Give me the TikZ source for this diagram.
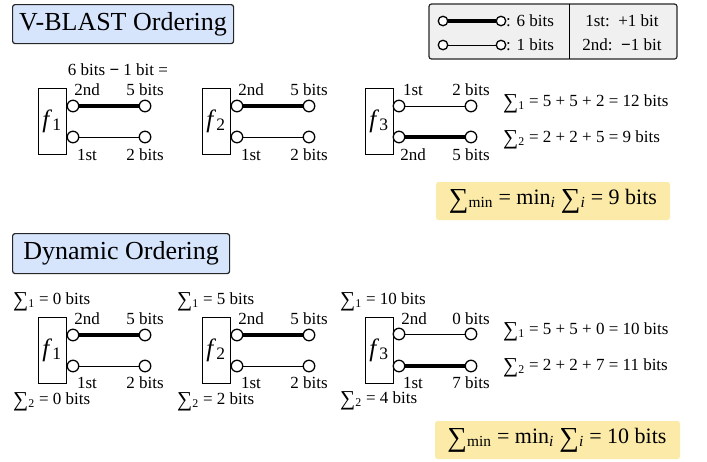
\documentclass[tikz,border=0pt]{standalone}
\usepackage{fontspec}
\usepackage{graphicx}
\setmainfont{Liberation Serif}
\newcommand{\Sg}[1]{\raisebox{-0.12em}{\scalebox{1.25}{∑}}\textsubscript{#1}}
\newcommand{\bminus}{\textbf{−}}
\definecolor{tblue}{HTML}{D6E4FC}
\definecolor{tyellow}{HTML}{FCEBA8}
\definecolor{tgray}{HTML}{F0F0F0}
\begin{document}
\begin{tikzpicture}[x=1pt,y=-1pt,
  titlebox/.style={draw=black!85, fill=tblue, rounded corners=2.5pt, line width=1.2pt, inner sep=0pt, font=\fontsize{26}{28}\selectfont, anchor=north west},
  legbox/.style={draw=black!85, fill=tgray, rounded corners=2.5pt, line width=1.2pt},
  resbox/.style={fill=tyellow, rounded corners=2.5pt, draw=none},
  blk/.style={draw, line width=1pt, minimum width=28pt, minimum height=66pt, inner sep=0pt, font=\fontsize{25}{27}\selectfont},
  port/.style={circle, draw, line width=1.3pt, fill=white, minimum size=11.5pt, inner sep=0pt},
  lport/.style={circle, draw, line width=1.3pt, fill=white, minimum size=9.5pt, inner sep=0pt},
  lbl/.style={font=\fontsize{17}{19}\selectfont, inner sep=0pt},
  big/.style={font=\fontsize{22}{24}\selectfont, inner sep=0pt},
  wthick/.style={line width=4pt},
  wthin/.style={line width=1pt}]
\useasboundingbox (0,0) rectangle (707,461);

% ---------------- V-BLAST ----------------
\node[titlebox, minimum width=221pt, minimum height=39pt] (t1) at (12,4) {V-BLAST Ordering};

% legend
\draw[legbox] (429,4) rectangle (677,59);
\coordinate (dv1) at (569,4);
\coordinate (dv2) at (569,59);
\draw[line width=1pt] (dv1) -- (dv2);
\node[lport] (la1) at (443,21) {};
\node[lport] (lb1) at (501,21) {};
\node[lport] (la2) at (443,45) {};
\node[lport] (lb2) at (501,45) {};
\draw[wthick] (la1) -- (lb1);
\draw[wthin] (la2) -- (lb2);
\node[lbl, anchor=west] (lt1) at (506,21) {: 6 bits};
\node[lbl, anchor=west] (lt2) at (506,45) {: 1 bits};
\node[lbl] (lr1) at (622,21) {1st:\, +1 bit};
\node[lbl] (lr2) at (622,45) {2nd:\, \bminus1 bit};

% f1
\node[lbl] (ann) at (118,70) {6 bits \bminus\ 1 bit =};
\node[blk] (f1) at (52,121) {\textit{f}\textsubscript{1}};
\node[port] (a1) at (73,106) {};
\node[port] (b1) at (145,106) {};
\node[port] (c1) at (73,137) {};
\node[port] (d1) at (145,137) {};
\draw[wthick] (a1) -- (b1);
\draw[wthin] (c1) -- (d1);
\node[lbl] (l1a) at (87,90) {2nd};
\node[lbl] (l1b) at (145,90) {5 bits};
\node[lbl] (l1c) at (87,155) {1st};
\node[lbl] (l1d) at (145,155) {2 bits};

% f2
\node[blk] (f2) at (216,121) {\textit{f}\textsubscript{2}};
\node[port] (a2) at (237,106) {};
\node[port] (b2) at (309,106) {};
\node[port] (c2) at (237,137) {};
\node[port] (d2) at (309,137) {};
\draw[wthick] (a2) -- (b2);
\draw[wthin] (c2) -- (d2);
\node[lbl] (l2a) at (251,90) {2nd};
\node[lbl] (l2b) at (309,90) {5 bits};
\node[lbl] (l2c) at (251,155) {1st};
\node[lbl] (l2d) at (309,155) {2 bits};

% f3
\node[blk] (f3) at (379,121) {\textit{f}\textsubscript{3}};
\node[port] (a3) at (399,106) {};
\node[port] (b3) at (471,106) {};
\node[port] (c3) at (399,137) {};
\node[port] (d3) at (471,137) {};
\draw[wthin] (a3) -- (b3);
\draw[wthick] (c3) -- (d3);
\node[lbl] (l3a) at (413,90) {1st};
\node[lbl] (l3b) at (471,90) {2 bits};
\node[lbl] (l3c) at (413,155) {2nd};
\node[lbl] (l3d) at (471,155) {5 bits};

\node[lbl, anchor=west] (s1) at (503,104) {\Sg{1} = 5 + 5 + 2 = 12 bits};
\node[lbl, anchor=west] (s2) at (503,140) {\Sg{2} = 2 + 2 + 5 = 9 bits};

\draw[resbox] (436,182) rectangle (670,220);
\node[big] (r1) at (553,201) {\Sg{min} = min\textsubscript{\textit{i}} \Sg{\textit{i}} = 9 bits};

% ---------------- Dynamic ----------------
\node[titlebox, minimum width=217pt, minimum height=40pt] (t2) at (12,233) {Dynamic Ordering};

% g1
\node[lbl, anchor=west] (u1a) at (13,302) {\Sg{1} = 0 bits};
\node[lbl, anchor=west] (u1b) at (13,402) {\Sg{2} = 0 bits};
\node[blk] (g1) at (52,350) {\textit{f}\textsubscript{1}};
\node[port] (e1) at (73,335) {};
\node[port] (h1) at (145,335) {};
\node[port] (j1) at (73,366) {};
\node[port] (k1) at (145,366) {};
\draw[wthick] (e1) -- (h1);
\draw[wthin] (j1) -- (k1);
\node[lbl] (m1a) at (87,319) {2nd};
\node[lbl] (m1b) at (145,319) {5 bits};
\node[lbl] (m1c) at (87,383) {1st};
\node[lbl] (m1d) at (145,383) {2 bits};

% g2
\node[lbl, anchor=west] (u2a) at (177,302) {\Sg{1} = 5 bits};
\node[lbl, anchor=west] (u2b) at (177,402) {\Sg{2} = 2 bits};
\node[blk] (g2) at (216,350) {\textit{f}\textsubscript{2}};
\node[port] (e2) at (237,335) {};
\node[port] (h2) at (309,335) {};
\node[port] (j2) at (237,366) {};
\node[port] (k2) at (309,366) {};
\draw[wthick] (e2) -- (h2);
\draw[wthin] (j2) -- (k2);
\node[lbl] (m2a) at (251,319) {2nd};
\node[lbl] (m2b) at (309,319) {5 bits};
\node[lbl] (m2c) at (251,383) {1st};
\node[lbl] (m2d) at (309,383) {2 bits};

% g3
\node[lbl, anchor=west] (u3a) at (340,302) {\Sg{1} = 10 bits};
\node[lbl, anchor=west] (u3b) at (340,401) {\Sg{2} = 4 bits};
\node[blk] (g3) at (379,350) {\textit{f}\textsubscript{3}};
\node[port] (e3) at (399,334) {};
\node[port] (h3) at (471,334) {};
\node[port] (j3) at (399,366) {};
\node[port] (k3) at (471,366) {};
\draw[wthin] (e3) -- (h3);
\draw[wthick] (j3) -- (k3);
\node[lbl] (m3a) at (414,319) {2nd};
\node[lbl] (m3b) at (471,319) {0 bits};
\node[lbl] (m3c) at (413,383) {1st};
\node[lbl] (m3d) at (471,383) {7 bits};

\node[lbl, anchor=west] (v1) at (503,332) {\Sg{1} = 5 + 5 + 0 = 10 bits};
\node[lbl, anchor=west] (v2) at (503,368) {\Sg{2} = 2 + 2 + 7 = 11 bits};

\draw[resbox] (435,421) rectangle (680,459);
\node[big] (r2) at (557,440) {\Sg{min} = min\textsubscript{\textit{i}} \Sg{\textit{i}} = 10 bits};
\end{tikzpicture}
\end{document}
